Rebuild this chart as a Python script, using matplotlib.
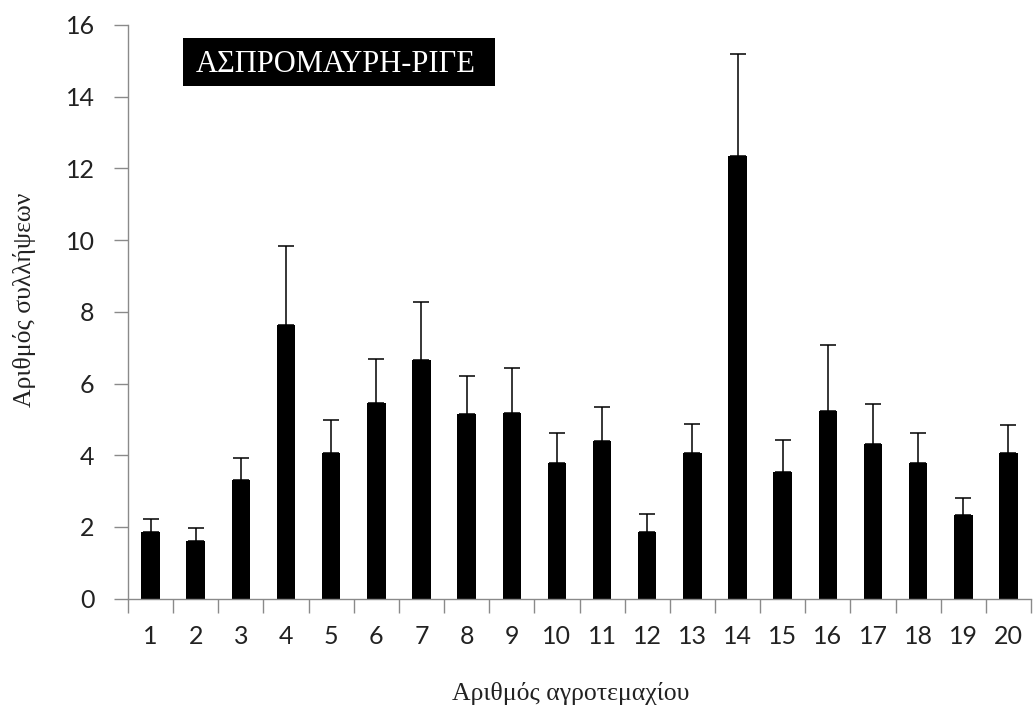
import matplotlib.pyplot as plt
from matplotlib.patches import Rectangle
import numpy as np

plots = list(range(1, 21))
captures = [1.87, 1.62, 3.31, 7.62, 4.05, 5.47, 6.66, 5.14, 5.19, 3.78,
            4.39, 1.87, 4.06, 12.35, 3.52, 5.24, 4.31, 3.78, 2.34, 4.06]
err_top = [2.21, 1.96, 3.92, 9.84, 4.98, 6.68, 8.27, 6.22, 6.42, 4.63,
           5.35, 2.37, 4.88, 15.18, 4.43, 7.07, 5.43, 4.63, 2.80, 4.84]
yticks = [0, 2, 4, 6, 8, 10, 12, 14, 16]
title = "ΑΣΠΡΟΜΑΥΡΗ-ΡΙΓΕ"

sans = ["Lato", "DejaVu Sans"]
serif = ["Liberation Serif", "DejaVu Serif"]

fig = plt.figure(figsize=(10.33, 7.13), dpi=100)
ax = fig.add_axes([0.1239, 0.1603, 0.8742, 0.8047])

x = np.array(plots)
vals = np.array(captures)
upper = np.array(err_top) - vals
ax.bar(x, vals, width=0.41, color="black", zorder=2)
ax.errorbar(x, vals, yerr=[np.zeros_like(upper), upper], fmt="none",
            ecolor="black", elinewidth=1.1, capsize=5.5, capthick=1.1, zorder=3)

ax.set_xlim(0.5, 20.5)
ax.set_ylim(0, 16)
ax.set_yticks(yticks)
ax.set_xticks(x)
ax.set_xticks(np.arange(0.5, 21, 1.0), minor=True)
ax.tick_params(axis="x", which="major", length=0, pad=19, labelsize=18)
ax.tick_params(axis="x", which="minor", length=10, width=1, color="#8a8a8a")
ax.tick_params(axis="y", length=10, width=1, color="#8a8a8a", pad=14, labelsize=18)
for lab in ax.get_xticklabels() + ax.get_yticklabels():
    lab.set_family(sans)
    lab.set_color("#222222")

for side in ("top", "right"):
    ax.spines[side].set_visible(False)
for side in ("left", "bottom"):
    ax.spines[side].set_color("#8a8a8a")
    ax.spines[side].set_linewidth(1)

fig.text(0.552, 0.028, "Αριθμός αγροτεμαχίου", family=serif, fontsize=18.5,
         ha="center", va="center", color="#222222")
fig.text(0.024, 0.579, "Αριθμός συλλήψεων", family=serif, fontsize=18.5,
         ha="center", va="center", rotation=90, color="#222222")

# black label box in the upper-left corner of the plot
fig.patches.append(Rectangle((0.1772, 0.8794), 0.302, 0.0673, transform=fig.transFigure,
                             facecolor="black", edgecolor="none", zorder=5))
fig.text(0.3248, 0.8986, title, family=serif, fontsize=22, color="white",
         ha="center", va="baseline", zorder=6)

fig.savefig("out.png", dpi=100)
